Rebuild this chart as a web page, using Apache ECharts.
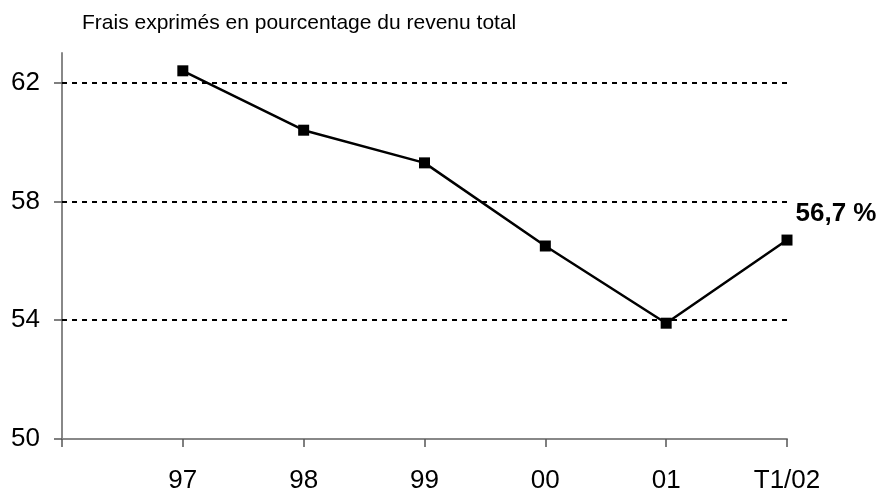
<!DOCTYPE html>
<html>
<head>
<meta charset="utf-8">
<script src="https://cdn.jsdelivr.net/npm/echarts@6/dist/echarts.min.js"></script>
<style>
html, body { margin: 0; padding: 0; background: #fff; }
#chart { width: 881px; height: 494px; }
</style>
</head>
<body>
<div id="chart"></div>
<script>
// leading blank slot: the first year sits one step right of the y axis
var categories = ['', '97', '98', '99', '00', '01', 'T1/02'];
var frais = [null, 62.4, 60.4, 59.3, 56.5, 53.9, 56.7];
var yTicks = [50, 54, 58, 62];
var gridValues = [54, 58, 62];
var titleText = 'Frais exprimés en pourcentage du revenu total';

var font = 'Liberation Sans, Arial, sans-serif';
var chart = echarts.init(document.getElementById('chart'));

var points = frais.map(function (v, i) {
    if (i === frais.length - 1) {
        return {
            value: v,
            label: {
                show: true,
                position: 'right',
                offset: [-2, -26],
                formatter: function (p) { return p.value.toFixed(1).replace('.', ',') + ' %'; },
                fontFamily: font,
                fontSize: 26,
                fontWeight: 'bold',
                color: '#000'
            }
        };
    }
    return v;
});

chart.setOption({
    animation: false,
    title: {
        text: titleText,
        left: 77,
        top: 8,
        textStyle: { fontFamily: font, fontSize: 21, fontWeight: 'normal', color: '#000' }
    },
    grid: { left: 62, right: 94, top: 53, bottom: 53, containLabel: false },
    xAxis: {
        type: 'category',
        data: categories,
        boundaryGap: false,
        axisLine: { lineStyle: { color: '#888', width: 2 } },
        axisTick: { length: 8, lineStyle: { color: '#555', width: 1.5 } },
        axisLabel: { fontFamily: font, fontSize: 26, color: '#000', margin: 29 },
        splitLine: { show: false }
    },
    yAxis: {
        type: 'value',
        min: 50,
        max: 63,
        axisLine: { show: true, lineStyle: { color: '#888', width: 2 } },
        axisTick: { show: true, length: 8, customValues: yTicks, lineStyle: { color: '#555', width: 1.5 } },
        axisLabel: { fontFamily: font, fontSize: 26, color: '#000', margin: 22, customValues: yTicks },
        splitLine: { show: false }
    },
    series: [{
        type: 'line',
        data: points,
        symbol: 'rect',
        symbolSize: 11,
        lineStyle: { color: '#000', width: 2.5 },
        itemStyle: { color: '#000' },
        markLine: {
            silent: true,
            symbol: 'none',
            label: { show: false },
            lineStyle: { color: '#000', type: [5, 5], width: 2 },
            data: gridValues.map(function (v) { return { yAxis: v }; })
        }
    }]
});
</script>
</body>
</html>
